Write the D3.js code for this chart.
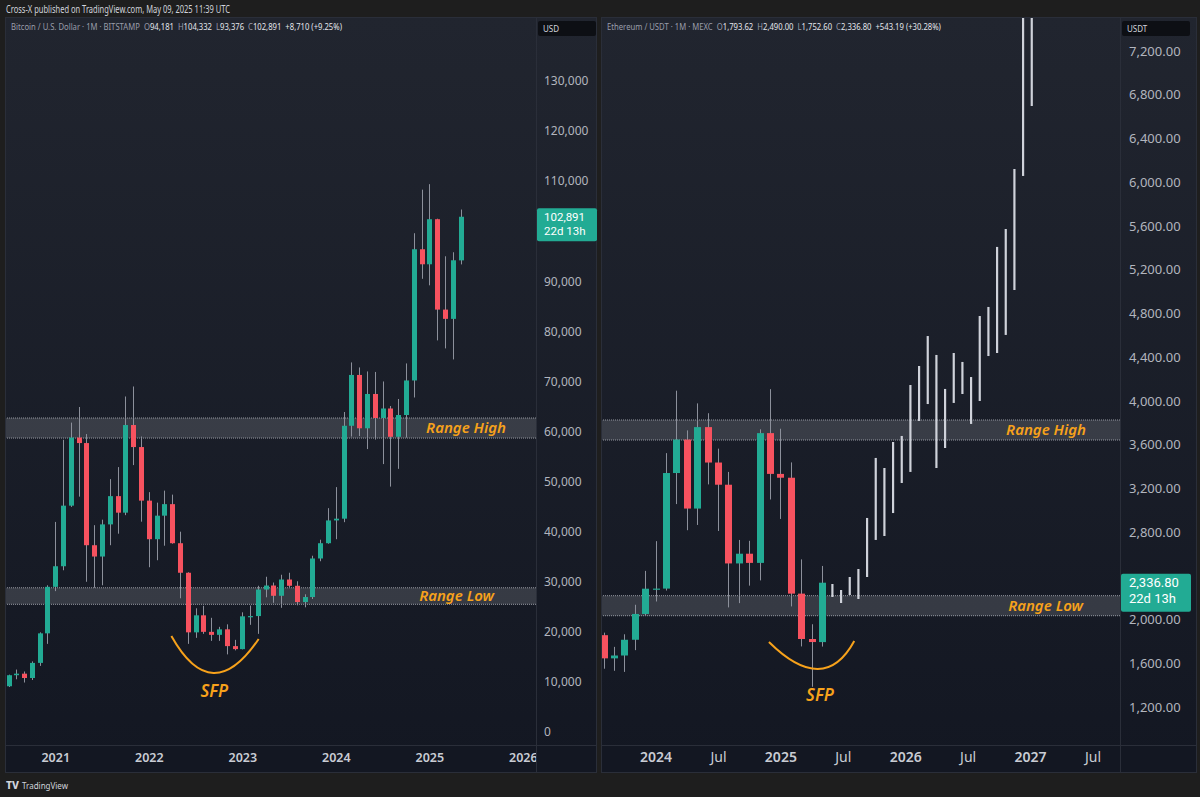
<!DOCTYPE html>
<html>
<head>
<meta charset="utf-8">
<script src="https://cdn.jsdelivr.net/npm/d3@7"></script>
<style>
  html, body { margin: 0; padding: 0; background: #1e1e1e; }
  svg { display: block; font-family: "Noto Sans", Roboto, sans-serif; }
</style>
</head>
<body>
<div id="chart"></div>
<script>
// ---- BTC monthly candles (Bitstamp) ----
var btcMonths = ["2020-07","2020-08","2020-09","2020-10","2020-11","2020-12",
  "2021-01","2021-02","2021-03","2021-04","2021-05","2021-06","2021-07","2021-08","2021-09","2021-10","2021-11","2021-12",
  "2022-01","2022-02","2022-03","2022-04","2022-05","2022-06","2022-07","2022-08","2022-09","2022-10","2022-11","2022-12",
  "2023-01","2023-02","2023-03","2023-04","2023-05","2023-06","2023-07","2023-08","2023-09","2023-10","2023-11","2023-12",
  "2024-01","2024-02","2024-03","2024-04","2024-05","2024-06","2024-07","2024-08","2024-09","2024-10","2024-11","2024-12",
  "2025-01","2025-02","2025-03","2025-04","2025-05"];
var btcOpen = [9135,11340,11650,10780,13800,19700,
  28990,33100,45200,58800,57700,37300,35040,41460,47100,43800,61300,56900,
  46200,38500,43200,45500,37700,31800,19900,23300,20000,19400,20500,17150,
  16550,23100,23150,28450,29250,27200,30450,29200,25950,26950,34650,37700,
  42250,42600,61150,71300,60650,67500,62700,64600,58950,63300,70200,96400,
  93400,102400,84350,82500,94181];
var btcHigh = [11450,12470,12080,14100,19900,29300,
  41950,58350,61780,64900,59500,41300,42400,50500,52900,67000,69000,59000,
  47900,45800,48200,47400,40000,31900,24700,25200,22800,21000,21500,18400,
  23900,25250,29200,31000,29850,31400,31800,30100,27500,35200,38400,44700,
  48900,63900,73800,72800,72000,71900,70000,65100,66500,73600,99600,108300,
  109400,102500,95000,95800,104332];
var btcLow = [8980,10530,9880,10380,13200,17600,
  28130,32300,44950,47000,30000,28800,29300,37300,39600,43300,53300,42000,
  32900,34300,37200,37600,26700,17600,18800,19600,18200,18200,15500,16300,
  16500,21400,19600,26900,25800,24800,28900,25300,24900,26550,34100,37600,
  38500,41900,59000,59100,56500,58400,53500,49000,52550,58800,66800,90500,
  89200,78200,76600,74400,93376];
var btcClose = [11340,11650,10780,13800,19700,28990,
  33100,45200,58800,57700,37300,35040,41460,47100,43800,61300,56900,46200,
  38500,43200,45500,37700,31800,19900,23300,20000,19400,20500,17150,16550,
  23100,23150,28450,29250,27200,30450,29200,25950,26950,34650,37700,42250,
  42600,61150,71300,60650,67500,62700,64600,58950,63300,70200,96400,93400,
  102400,84350,82500,94200,102891];

// ---- ETH monthly candles (MEXC) ----
var ethMonths = ["2023-08","2023-09","2023-10","2023-11","2023-12",
  "2024-01","2024-02","2024-03","2024-04","2024-05","2024-06","2024-07","2024-08","2024-09","2024-10","2024-11","2024-12",
  "2025-01","2025-02","2025-03","2025-04","2025-05"];
var ethOpen  = [1857,1645,1671,1815,2051, 2282,2283,3340,3646,3015,3760,3436,3233,2513,2602,2518,3705, 3332,3297,2237,1822,1793.62];
var ethHigh  = [1880,1750,1865,2135,2445, 2717,3522,4093,3730,3977,3887,3563,3350,2728,2720,3740,4107, 3745,3437,2550,1957,2490];
var ethLow   = [1550,1531,1521,1720,2040, 2165,2265,3056,2817,2865,3236,2810,2111,2150,2310,2358,3098, 2920,2120,1754,1385,1752.6];
var ethClose = [1645,1671,1815,2051,2282, 2283,3340,3646,3015,3760,3436,3233,2513,2602,2518,3705,3332, 3297,2237,1822,1794,2336.8];

// projected bars pattern (drawn after the last ETH candle)
var projLow  = [2206,2151,2224,2188,2389,2728,2764,2974,3249,3350,3816,3971,3386,3569,3981,4063,3789,3999,4410,4438,4603,5014,6057,6697];
var projHigh = [2325,2270,2389,2462,2929,3478,3386,3624,3679,4145,4319,4593,4420,4109,4438,4356,4218,4776,4859,5408,5572,6121,7800,7800];
var projStep = 0.833; // months between projected bars

// axis ticks
var btcPriceTicks = [0,10000,20000,30000,40000,50000,60000,70000,80000,90000,100000,110000,120000,130000];
var ethPriceTicks = [1200,1600,2000,2400,2800,3200,3600,4000,4400,4800,5200,5600,6000,6400,6800,7200];
var btcTimeTicks  = ["2021-01","2022-01","2023-01","2024-01","2025-01","2026-01"];
var btcTimeLabels = ["2021","2022","2023","2024","2025","2026"];
var ethTimeTicks  = ["2024-01","2024-07","2025-01","2025-07","2026-01","2026-07","2027-01","2027-07"];
var ethTimeLabels = ["2024","Jul","2025","Jul","2026","Jul","2027","Jul"];

// zones and notes
var btcZoneNames = ["Range High","Range Low"];
var btcZoneLo = [58700, 25500];
var btcZoneHi = [62700, 28800];
var ethZoneNames = ["Range High","Range Low"];
var ethZoneLo = [3642, 2035];
var ethZoneHi = [3825, 2218];
// SFP arcs: [months after first candle, price] for start, bottom, end
var btcSfp = [[20.9,19170],[26.3,11780],[32.1,18570]];
var ethSfp = [[15.9,1795],[20.6,1548],[24.1,1804]];

var W = 1200, H = 797;
var TOP = 17, AXIS_Y = 745, BOTTOM = 773;
var GREEN = "#22ab94", RED = "#f7525f", WICK = "#8c909b", ORANGE = "#f7a21b";

function mi(s) { var p = s.split("-"); return +p[0] * 12 + (+p[1] - 1); }

var svg = d3.select("#chart").append("svg").attr("width", W).attr("height", H);
var defs = svg.append("defs");
var grad = defs.append("linearGradient").attr("id", "bg")
  .attr("x1", 0).attr("y1", 0).attr("x2", 0).attr("y2", 1);
grad.append("stop").attr("offset", "0%").attr("stop-color", "#21252f");
grad.append("stop").attr("offset", "100%").attr("stop-color", "#131722");

svg.append("rect").attr("width", W).attr("height", H).attr("fill", "#1e1e1e");

// published line
svg.append("text").attr("x", 6).attr("y", 13)
  .attr("textLength", 224).attr("lengthAdjust", "spacingAndGlyphs")
  .attr("fill", "#d1d4dc").style("font-size", "10px")
  .text("Cross-X published on TradingView.com, May 09, 2025 11:39 UTC");

function drawPanel(p) {
  var g = svg.append("g");
  g.append("rect").attr("x", p.left + 0.5).attr("y", TOP + 0.5)
    .attr("width", p.right - p.left - 1).attr("height", BOTTOM - TOP - 1)
    .attr("fill", "url(#bg)").attr("stroke", "#2a2e39");
  g.append("rect").attr("x", p.left + 1).attr("y", AXIS_Y)
    .attr("width", p.right - p.left - 2).attr("height", BOTTOM - AXIS_Y - 1)
    .attr("fill", "#131722");
  g.append("line").attr("x1", p.left).attr("x2", p.right)
    .attr("y1", AXIS_Y + 0.5).attr("y2", AXIS_Y + 0.5).attr("stroke", "#2a2e39");
  g.append("line").attr("x1", p.axisX + 0.5).attr("x2", p.axisX + 0.5)
    .attr("y1", TOP).attr("y2", BOTTOM).attr("stroke", "#2a2e39");

  defs.append("clipPath").attr("id", p.id + "-clip").append("rect")
    .attr("x", p.left + 1).attr("y", TOP + 1)
    .attr("width", p.axisX - p.left - 1).attr("height", AXIS_Y - TOP - 1);
  var plot = g.append("g").attr("clip-path", "url(#" + p.id + "-clip)");

  // zones
  p.zoneNames.forEach(function(name, i) {
    var y1 = p.y(p.zoneHi[i]), y2 = p.y(p.zoneLo[i]);
    plot.append("rect").attr("x", p.left).attr("y", y1)
      .attr("width", p.axisX - p.left).attr("height", y2 - y1)
      .attr("fill", "#787b86").attr("fill-opacity", 0.33);
    [y1, y2].forEach(function(yy) {
      plot.append("line").attr("x1", p.left).attr("x2", p.axisX)
        .attr("y1", yy).attr("y2", yy)
        .attr("stroke", "#9598a1").attr("stroke-width", 1).attr("stroke-dasharray", "1,1");
    });
    plot.append("text").attr("x", p.axisX - p.labelOff[i]).attr("y", (y1 + y2) / 2 + 5)
      .attr("text-anchor", "end").attr("fill", ORANGE)
      .style("font-size", "15px").style("font-style", "italic").style("font-weight", 600)
      .text(name);
  });

  // candles
  var candles = p.months.map(function(m, i) {
    return { m: mi(m), o: p.open[i], h: p.high[i], l: p.low[i], c: p.close[i] };
  });
  var cg = plot.append("g");
  cg.selectAll("line.wick").data(candles).enter().append("line")
    .attr("x1", function(d) { return Math.round(p.x(d.m)) + 0.5; })
    .attr("x2", function(d) { return Math.round(p.x(d.m)) + 0.5; })
    .attr("y1", function(d) { return p.y(d.h); })
    .attr("y2", function(d) { return p.y(d.l); })
    .attr("stroke", WICK).attr("stroke-width", 1);
  cg.selectAll("rect.body").data(candles).enter().append("rect")
    .attr("x", function(d) { return Math.round(p.x(d.m)) + 0.5 - p.bodyW / 2; })
    .attr("y", function(d) { return p.y(Math.max(d.o, d.c)); })
    .attr("width", p.bodyW)
    .attr("height", function(d) { return Math.max(1.2, Math.abs(p.y(d.o) - p.y(d.c))); })
    .attr("fill", function(d) { return d.c >= d.o ? GREEN : RED; });

  // last price position (tick labels under the tag are hidden, as TradingView does)
  var last = p.close[p.close.length - 1];
  var py = p.y(last);
  var tagY0 = py - p.tagTop, tagY1 = tagY0 + p.tagH;

  // price axis
  var shownTicks = p.priceTicks.filter(function(t) {
    var ty = p.y(t);
    return ty + 6 < tagY0 || ty - 6 > tagY1;
  });
  var pa = g.append("g").attr("transform", "translate(" + p.axisX + ",0)")
    .call(d3.axisRight(p.y).tickValues(shownTicks).tickSize(0).tickPadding(p.pricePad).tickFormat(p.priceFmt));
  pa.select(".domain").remove();
  pa.selectAll("text").attr("fill", "#b2b5be").style("font-size", p.priceFont)
    .style("font-family", "'Noto Sans', Roboto, sans-serif");

  // time axis
  defs.append("clipPath").attr("id", p.id + "-tclip").append("rect")
    .attr("x", p.left).attr("y", AXIS_Y).attr("width", p.axisX - p.left).attr("height", BOTTOM - AXIS_Y);
  var ta = g.append("g").attr("clip-path", "url(#" + p.id + "-tclip)")
    .append("g").attr("transform", "translate(0," + AXIS_Y + ")")
    .call(d3.axisBottom(p.x).tickValues(p.timeTicks.map(mi)).tickSize(0).tickPadding(p.timePad)
      .tickFormat(function(d, i) { return p.timeLabels[i]; }));
  ta.select(".domain").remove();
  ta.selectAll("text").attr("fill", "#c9ccd4").style("font-size", p.timeFont)
    .style("font-family", "'Noto Sans', Roboto, sans-serif")
    .style("font-weight", function(d, i) { return p.timeLabels[i] === "Jul" ? 400 : 600; });

  // currency badge
  g.append("rect").attr("x", p.axisX + 2).attr("y", 21).attr("width", p.badgeW).attr("height", 15)
    .attr("rx", 2).attr("fill", "#0d0f14");
  g.append("text").attr("x", p.axisX + 7).attr("y", 32).attr("fill", "#d1d4dc")
    .style("font-size", "8px").text(p.currency);

  // header legend: segments laid out one after another, then squeezed to the reference width
  var hg = g.append("g");
  var cx = 0;
  p.header.forEach(function(seg) {
    var t = hg.append("text").attr("x", cx).attr("y", 0)
      .attr("fill", seg[1] ? "#e4e6ec" : "#9a9daa")
      .style("font-size", "9px").style("white-space", "pre")
      .text(seg[0]);
    cx += t.node().getComputedTextLength();
  });
  hg.attr("transform", "translate(" + (p.left + 6) + ",30) scale(" + (p.headerW / cx) + ",1)");

  // last price tag
  g.append("rect").attr("x", p.axisX + 1).attr("y", tagY0)
    .attr("width", p.tagW).attr("height", p.tagH).attr("rx", 2).attr("fill", GREEN);
  g.append("text").attr("x", p.axisX + p.pricePad).attr("y", py + 4)
    .attr("fill", "#ffffff").style("font-family", "Roboto, sans-serif").style("font-size", p.tagFont)
    .text(p.priceFmt(last));
  g.append("text").attr("x", p.axisX + p.pricePad).attr("y", py + 4 + p.line2)
    .attr("fill", "#ffffff").style("font-family", "Roboto, sans-serif").style("font-size", p.tagFont)
    .text("22d 13h");

  return plot;
}

// ---- BTC panel ----
var xBtc = d3.scaleLinear().domain([mi(btcMonths[0]), mi(btcMonths[btcMonths.length - 1])]).range([8.5, 460.5]);
var yBtc = d3.scaleLinear().domain([0, 130000]).range([732, 81]);
var btcPlot = drawPanel({
  id: "btc", left: 5, right: 597, axisX: 536, x: xBtc, y: yBtc,
  months: btcMonths, open: btcOpen, high: btcHigh, low: btcLow, close: btcClose, bodyW: 5,
  zoneNames: btcZoneNames, zoneLo: btcZoneLo, zoneHi: btcZoneHi, labelOff: [30, 42],
  priceTicks: btcPriceTicks, priceFmt: d3.format(","), pricePad: 8, priceFont: "12px",
  timeTicks: btcTimeTicks, timeLabels: btcTimeLabels, timePad: 8, timeFont: "12.5px",
  currency: "USD", badgeW: 58, headerW: 331,
  header: [["Bitcoin / U.S. Dollar \u00b7 1M \u00b7 BITSTAMP  ", 0], ["O", 0], ["94,181", 1], ["  H", 0], ["104,332", 1],
           ["  L", 0], ["93,376", 1], ["  C", 0], ["102,891", 1], ["  +8,710 (+9.25%)", 1]],
  tagTop: 8.5, tagW: 60, tagH: 33, line2: 14, tagFont: "11.5px"
});

// ---- ETH panel ----
var xEth = d3.scaleLinear().domain([mi(ethMonths[0]), mi(ethMonths[ethMonths.length - 1])]).range([603.5, 822]);
var yEth = d3.scaleLinear().domain([1200, 7200]).range([707, 51]);
var ethPlot = drawPanel({
  id: "eth", left: 601, right: 1197, axisX: 1120, x: xEth, y: yEth,
  months: ethMonths, open: ethOpen, high: ethHigh, low: ethLow, close: ethClose, bodyW: 7,
  zoneNames: ethZoneNames, zoneLo: ethZoneLo, zoneHi: ethZoneHi, labelOff: [34, 37],
  priceTicks: ethPriceTicks, priceFmt: d3.format(",.2f"), pricePad: 9, priceFont: "13px",
  timeTicks: ethTimeTicks, timeLabels: ethTimeLabels, timePad: 7, timeFont: "14px",
  currency: "USDT", badgeW: 68, headerW: 334,
  header: [["Ethereum / USDT \u00b7 1M \u00b7 MEXC  ", 0], ["O", 0], ["1,793.62", 1], ["  H", 0], ["2,490.00", 1],
           ["  L", 0], ["1,752.60", 1], ["  C", 0], ["2,336.80", 1], ["  +543.19 (+30.28%)", 1]],
  tagTop: 9, tagW: 70, tagH: 38, line2: 16, tagFont: "13px"
});

// projected bars pattern
var projStart = mi(ethMonths[ethMonths.length - 1]) + 1;
var proj = projLow.map(function(l, i) { return { m: projStart + i * projStep, l: l, h: projHigh[i] }; });
ethPlot.append("g").selectAll("line").data(proj).enter().append("line")
  .attr("x1", function(d) { return xEth(d.m); })
  .attr("x2", function(d) { return xEth(d.m); })
  .attr("y1", function(d) { return yEth(d.h); })
  .attr("y2", function(d) { return yEth(d.l); })
  .attr("stroke", "#cfd2da").attr("stroke-width", 2.2);

// SFP arcs
function sfp(plot, x, y, first, pts, label) {
  var P = pts.map(function(d) { return [x(first + d[0]), y(d[1])]; });
  var cx = 2 * P[1][0] - (P[0][0] + P[2][0]) / 2, cy = 2 * P[1][1] - (P[0][1] + P[2][1]) / 2;
  var path = d3.path();
  path.moveTo(P[0][0], P[0][1]);
  path.quadraticCurveTo(cx, cy, P[2][0], P[2][1]);
  plot.append("path").attr("d", path.toString()).attr("fill", "none")
    .attr("stroke", ORANGE).attr("stroke-width", 2);
  plot.append("text").attr("x", x(first + label[0])).attr("y", y(label[1]))
    .attr("text-anchor", "middle").attr("fill", ORANGE)
    .style("font-size", "17px").style("font-style", "italic").style("font-weight", 600)
    .text("SFP");
}
sfp(btcPlot, xBtc, yBtc, mi(btcMonths[0]), btcSfp, [26.4, 6990]);
sfp(ethPlot, xEth, yEth, mi(ethMonths[0]), ethSfp, [20.8, 1255]);

// TradingView footer
var logo = svg.append("g").attr("fill", "#d1d4dc");
logo.append("text").attr("x", 6).attr("y", 789).style("font-size", "10px").style("font-weight", 800)
  .attr("textLength", 13).attr("lengthAdjust", "spacingAndGlyphs").text("TV");
logo.append("text").attr("x", 22).attr("y", 789).style("font-size", "9.5px")
  .attr("textLength", 46).attr("lengthAdjust", "spacingAndGlyphs").text("TradingView");
</script>
</body>
</html>
